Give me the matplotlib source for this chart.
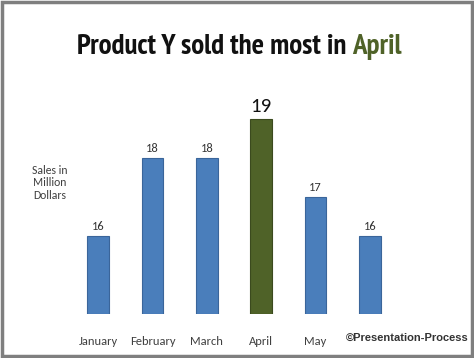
import matplotlib
matplotlib.use("Agg")
import matplotlib.pyplot as plt
from matplotlib.patches import Rectangle

months = ["January", "February", "March", "April", "May", "June"]
sales = [16, 18, 18, 19, 17, 16]
highlight = "April"
title_main = "Product Y sold the most in "
title_hl = "April"
ylabel = "Sales in\nMillion\nDollars"
watermark = "\u00a9Presentation-Process"

W, H = 474, 358
fig = plt.figure(figsize=(W / 100, H / 100), dpi=100)
fig.patch.set_facecolor("white")

lab_fam = ["Carlito", "Lato", "DejaVu Sans"]
tfam = ["PT Sans Narrow", "Roboto Condensed", "Archivo Narrow", "Liberation Sans Narrow", "DejaVu Sans"]

# outer frame
fig.add_artist(Rectangle((0.004, 0.005), 0.992, 0.99, transform=fig.transFigure,
                         fill=False, edgecolor="#7f7f7f", linewidth=2.5))

ax_left, ax_right = 71 / W, 397 / W
ax_bottom, ax_top = 1 - 314 / H, 1 - 80 / H
ax = fig.add_axes([ax_left, ax_bottom, ax_right - ax_left, ax_top - ax_bottom])
x = list(range(len(months)))
colors = ["#4f6228" if m == highlight else "#4a7ebb" for m in months]
edges = ["#3b4a1e" if m == highlight else "#3a659a" for m in months]
ax.bar(x, [v - 14 for v in sales], bottom=14, width=0.4, color=colors,
       edgecolor=edges, linewidth=0.8)
ax.set_xlim(-0.5, len(months) - 0.5)
ax.set_ylim(14, 20)
for s in ax.spines.values():
    s.set_visible(False)
ax.set_yticks([])
ax.set_xticks(x)
# last category label is covered by the watermark in the reference
ax.set_xticklabels(months[:-1] + [""], fontsize=9, color="#404040", family=lab_fam)
ax.tick_params(axis="x", length=0, pad=16)

for xi, v, m in zip(x, sales, months):
    if m == highlight:
        ax.text(xi, v + 0.1, str(v), ha="center", va="bottom", fontsize=15,
                color="#111111", family=lab_fam)
    else:
        ax.text(xi, v + 0.1, str(v), ha="center", va="bottom", fontsize=9,
                color="#333333", family=lab_fam)

# title, two colours, scaled to the reference width
ty = 1 - 47 / H
fs = 20
t1 = fig.text(0.5, ty, title_main, ha="left", va="center", fontsize=fs,
              fontweight="bold", color="#111111", family=tfam)
t2 = fig.text(0.5, ty, title_hl, ha="left", va="center", fontsize=fs,
              fontweight="bold", color="#4f6228", family=tfam)
fig.canvas.draw()
total = t1.get_window_extent().width + t2.get_window_extent().width
fs = min(fs * 325 / total, 22)
t1.set_fontsize(fs)
t2.set_fontsize(fs)
fig.canvas.draw()
w1 = t1.get_window_extent().width
w2 = t2.get_window_extent().width
start = (W - (w1 + w2)) / 2 + 2
t1.set_position((start / W, ty))
t2.set_position(((start + w1) / W, ty))

fig.text(50 / W, 1 - 183 / H, ylabel, ha="center", va="center",
         fontsize=8.5, color="#404040", family=lab_fam, linespacing=1.2)

fig.text(407 / W, 1 - 338 / H, watermark, ha="center", va="center",
         fontsize=8, fontweight="bold", color="#333333", family="Liberation Sans")

fig.savefig("out.png", dpi=100, facecolor="white")
